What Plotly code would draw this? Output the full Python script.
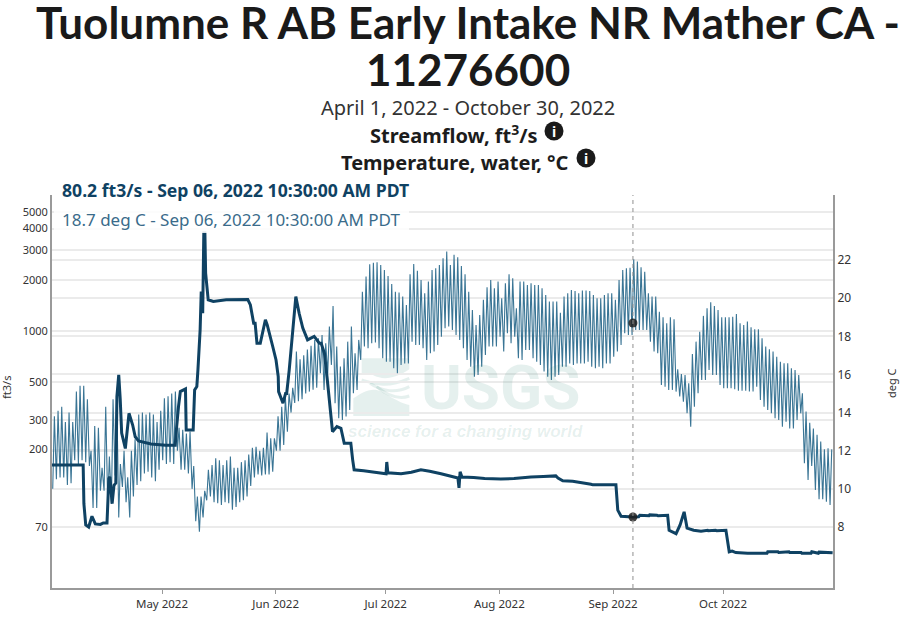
import pandas as pd
import plotly.graph_objects as go

START = pd.Timestamp("2022-04-01")

# Daily high and low water temperature, deg C, one entry per day from Apr 1
temp_high = [
    13.8,14.1,14.3,13.5,14.0,13.5,15.1,15.4,15.4,14.7,
    12.0,13.3,13.2,11.1,14.3,11.7,14.7,15.0,11.3,12.0,
    10.6,12.0,12.6,13.9,14.0,13.9,14.0,13.9,13.5,14.1,
    14.75,14.85,15.0,15.1,13.2,13.1,12.9,13.0,11.2,9.6,
    9.6,9.9,11.0,11.25,11.6,11.5,11.25,11.5,11.7,11.1,
    11.1,11.4,11.5,11.8,12.15,12.2,12.0,12.15,12.95,12.65,
    12.65,13.8,14.3,14.8,15.0,15.3,17.2,16.8,17.0,17.3,
    17.5,17.8,17.9,
    18.07,17.63,18.51,19.59,17.46,16.41,16.85,17.72,18.51,17.11,
    17.81,20.34,21.13,21.78,21.86,21.88,21.74,21.48,21.16,20.74,
    20.34,20.29,20.08,19.64,21.25,21.79,21.44,20.95,20.26,20.87,
    21.48,21.57,21.74,22.09,22.44,21.74,22.27,22.14,21.69,21.25,
    20.34,19.38,18.59,19.12,19.91,20.57,20.95,20.52,20.87,19.99,
    20.78,21.25,21.04,19.47,20.87,20.87,20.69,20.78,20.69,20.69,
    20.52,20.17,19.82,19.82,19.82,19.24,20.08,20.26,20.43,20.38,
    20.26,20.40,20.40,20.38,20.17,19.99,
    19.99,20.17,20.26,20.26,19.91,20.95,21.48,21.57,21.6,22.04,
    21.92,21.62,21.39,20.26,20.08,20.08,19.29,19.0,18.68,19.0,
    18.89,16.27,16.02,15.97,15.53,17.07,17.72,18.24,19.07,19.47,
    19.78,19.59,19.38,19.0,19.0,19.0,19.03,19.17,18.68,18.59,
    18.77,18.47,18.37,18.37,17.9,17.46,17.32,17.2,16.93,16.67,
    16.58,16.58,16.32,16.23,15.97,15.01,14.05,13.47,13.17,12.83,
    12.48,12.07,12.13,12.07,
]
temp_low = [
    10.0,10.5,10.6,10.6,10.2,10.3,11.5,11.3,11.5,11.4,
    11.2,9.0,9.0,9.9,9.9,9.2,9.2,10.7,8.5,10.1,
    9.3,8.5,9.6,10.2,10.4,10.8,10.9,10.6,10.4,11.0,
    11.5,11.3,11.4,11.3,12.0,11.0,11.0,10.8,10.0,8.3,
    7.75,8.5,9.4,9.6,9.3,9.25,9.15,9.3,9.25,8.9,
    9.05,9.3,9.4,9.6,10.15,10.6,10.75,10.7,10.75,10.75,
    10.9,12.0,12.0,12.3,13.0,14.0,14.5,14.6,14.7,15.0,
    15.1,15.2,15.3,
    16.06,15.19,16.06,16.5,14.49,13.7,13.61,13.79,14.14,15.01,
    15.19,16.76,17.46,17.37,17.63,17.67,17.37,16.85,16.67,16.67,
    16.32,16.06,16.5,16.58,16.58,17.72,17.55,17.55,17.37,16.76,
    17.11,17.2,17.55,17.98,18.42,18.51,18.33,18.07,17.81,17.37,
    16.76,16.41,15.88,15.97,16.41,17.02,17.46,17.46,17.46,17.98,
    17.2,18.16,17.63,17.98,16.85,16.76,17.28,17.28,16.85,16.67,
    16.5,16.15,15.88,15.71,15.88,15.97,16.41,16.41,16.58,16.5,
    16.58,16.58,16.58,16.67,16.41,16.32,
    16.41,16.32,16.58,16.58,16.93,17.2,17.55,18.16,18.07,18.07,
    18.33,18.33,18.33,18.33,17.72,17.2,17.11,15.45,15.36,15.19,
    15.19,15.1,14.84,14.57,13.96,13.26,14.31,15.01,15.71,15.71,
    16.23,15.97,15.97,15.45,15.27,15.27,15.27,15.22,15.15,15.15,
    15.15,15.1,15.1,15.36,14.66,14.31,14.14,13.96,13.7,13.61,
    13.26,13.52,13.17,13.17,13.61,13.96,11.34,10.47,11.2,9.94,
    9.45,9.45,9.33,9.15,
]
assert len(temp_high) == 213 and len(temp_low) == 213, (len(temp_high), len(temp_low))

# Streamflow: days since Apr 1 and ft3/s
flow_day = [
    0,8.5,8.7,9.2,10,10.9,11.8,13.2,14,15,15.5,15.8,16.4,16.9,17.4,17.7,18.2,18.6,19,20,21,22,
    22.7,23.6,27,31,33.6,34,34.5,35,36.4,36.6,38.5,38.9,39.5,39.8,40.4,40.7,41.1,41.4,41.7,41.9,
    42.6,44,47.5,53.4,54.1,55,55.4,55.9,56.8,58.2,58.7,60.2,61.1,61.7,61.8,63,63.7,64,64.7,66.5,
    67.4,68.4,69.7,71.5,72.9,73.4,74.3,75,76.1,76.5,77.7,78.8,79.7,81.5,82,82.4,85,88,91.1,91.3,91.6,
    95.2,98,100.6,103,106.1,110.7,111,111.3,111.8,115,118,122.4,126,130.6,134,137.4,138,139.3,142,147,147.5,
    153.5,153.8,154.3,155.2,158.44,160,160.3,162.8,163,165,165.3,167.9,168.3,170.2,171.3,172.4,173.2,175,177,178.8,
    179,181,181.3,183.8,184.7,185.5,186.5,189.7,195,195.2,198,198.2,201,201.2,204.3,204.5,207,207.2,209,209.2,212.9,
]
flow_cfs = [
    162,162,96,72,70,81,73,72.5,74,74,135,138,96,123,127,410,550,398,250,203,327,279,
    238,225,216,212,212,273,358,439,455,261,261,449,470,589,1014,1705,1270,3770,3770,2190,
    1524,1490,1524,1530,1422,1110,1110,846,846,1162,1084,809,674,538,439,375,428,428,589,1592,
    1270,1038,885,927,846,846,738,537,312,255,273,267,218,218,174,152,150,147,144,169,146,
    144,147,152,149,144,136,119,148,138,137,135,134,135,138,139,140,136,131,130,125,124,
    124,124,88,81,80.2,80.5,82,81.5,82.5,82,81.5,82,67,64,72,86,69,67,66,67,
    66.5,67,66.5,67,50,50.5,49.5,49,49,50,50,49.5,50,49.5,49.5,49,49,50,49,49.8,49.3,
]
assert len(flow_day) == len(flow_cfs), (len(flow_day), len(flow_cfs))

cursor_time = "2022-09-06 10:30"
cursor_flow = 80.2
cursor_temp = 18.7

flow_ticks = [70, 200, 300, 500, 1000, 2000, 3000, 4000, 5000]
temp_ticks = [8, 10, 12, 14, 16, 18, 20, 22]
month_ticks = ["2022-05-01", "2022-06-01", "2022-07-01", "2022-08-01", "2022-09-01", "2022-10-01"]
month_labels = ["May 2022", "Jun 2022", "Jul 2022", "Aug 2022", "Sep 2022", "Oct 2022"]

TITLE = ["Tuolumne R AB Early Intake NR Mather CA -", "11276600"]
DATES = "April 1, 2022 - October 30, 2022"
PARAM_1 = "Streamflow, ft<sup>3</sup>/s"
PARAM_2 = "Temperature, water, °C"
READ_1 = "80.2 ft3/s - Sep 06, 2022 10:30:00 AM PDT"
READ_2 = "18.7 deg C - Sep 06, 2022 10:30:00 AM PDT"

FONT = "Noto Sans"
HEAD = "Lato"
DARK = "#0f4263"
TEMP = "#3a7595"
GRID = "#ebebeb"
AXIS = "#9a9a9a"
INK = "#1c1c1c"
MARK = "rgba(0,110,85,0.10)"

L, R, T, B = 52, 833, 195, 588
W, H = 907, 619
px = lambda x: (x - L) / (R - L)
py = lambda y: (B - y) / (B - T)


def at(day_frac):
    return START + pd.to_timedelta(day_frac, unit="D")


temp_x, temp_y = [], []
for i, (lo, hi) in enumerate(zip(temp_low, temp_high)):
    temp_x += [at(i + 0.2), at(i + 0.65)]
    temp_y += [lo, hi]

fig = go.Figure()
fig.add_trace(go.Scatter(x=temp_x, y=temp_y, mode="lines", yaxis="y",
                         line=dict(color=TEMP, width=1.1), hoverinfo="skip"))
fig.add_trace(go.Scatter(x=[at(d) for d in flow_day], y=flow_cfs, mode="lines", yaxis="y2",
                         line=dict(color=DARK, width=3, simplify=False), hoverinfo="skip"))
fig.add_trace(go.Scatter(x=[cursor_time], y=[cursor_temp], mode="markers", yaxis="y",
                         marker=dict(color="rgba(30,30,30,0.85)", size=9), hoverinfo="skip"))
fig.add_trace(go.Scatter(x=[cursor_time], y=[cursor_flow], mode="markers", yaxis="y2",
                         marker=dict(color="rgba(30,30,30,0.85)", size=9), hoverinfo="skip"))


def note(x, y, text, size, color=INK, family=FONT, anchor="center", **kw):
    return dict(xref="paper", yref="paper", x=px(x), y=py(y), text=text, showarrow=False,
                xanchor=anchor, yanchor="middle", align="center",
                font=dict(family=family, size=size, color=color), **kw)


def zoom_path(points):
    # points in watermark-sketch pixels: x=340+zx/3, y=350+zy/3
    out = []
    for cmd, *vals in points:
        coords = []
        for a, b in zip(vals[0::2], vals[1::2]):
            coords.append(f"{px(340 + a / 3):.4f},{py(350 + b / 3):.4f}")
        out.append(cmd + " " + " ".join(coords))
    return " ".join(out)


logo_top = zoom_path([("M", 65, 25), ("L", 208, 25), ("L", 208, 58),
                      ("C", 170, 85, 130, 92, 100, 76), ("C", 88, 70, 75, 66, 65, 72), ("Z",)])
logo_low = zoom_path([("M", 40, 145), ("C", 70, 125, 95, 110, 125, 125),
                      ("C", 160, 145, 185, 160, 208, 165), ("L", 208, 198), ("L", 40, 198), ("Z",)])
logo_w1 = zoom_path([("M", 65, 90), ("C", 100, 100, 140, 115, 208, 85)])
logo_w2 = zoom_path([("M", 90, 100), ("C", 125, 125, 170, 130, 208, 110)])
logo_w3 = zoom_path([("M", 110, 110), ("C", 140, 135, 175, 150, 208, 138)])

shapes = [
    dict(type="path", xref="paper", yref="paper", path=logo_top, fillcolor=MARK, line_width=0, layer="below"),
    dict(type="path", xref="paper", yref="paper", path=logo_low, fillcolor=MARK, line_width=0, layer="below"),
    dict(type="path", xref="paper", yref="paper", path=logo_w1, line=dict(color=MARK, width=3), layer="below"),
    dict(type="path", xref="paper", yref="paper", path=logo_w2, line=dict(color=MARK, width=3), layer="below"),
    dict(type="path", xref="paper", yref="paper", path=logo_w3, line=dict(color=MARK, width=3), layer="below"),
    dict(type="rect", xref="paper", yref="paper", x0=px(54), x1=px(409), y0=py(233), y1=py(203),
         fillcolor="rgba(255,255,255,0.85)", line_width=0, layer="above"),
    dict(type="line", xref="x", yref="paper", x0=cursor_time, x1=cursor_time, y0=0, y1=1,
         line=dict(color="#8f8f8f", width=1, dash="4px,4px"), layer="above"),
    dict(type="circle", xref="paper", yref="paper", x0=px(544.5), x1=px(563.5), y0=py(140.5), y1=py(121.5),
         fillcolor="#1a1a1a", line_width=0),
    dict(type="circle", xref="paper", yref="paper", x0=px(576.5), x1=px(595.5), y0=py(167.5), y1=py(148.5),
         fillcolor="#1a1a1a", line_width=0),
]

annotations = [
    note(468, 22, f"<b>{TITLE[0]}</b>", 44, family=HEAD, color="#1a1a1a", height=44),
    note(468, 69, f"<b>{TITLE[1]}</b>", 44, family=HEAD, color="#1a1a1a", height=44),
    note(468, 108, DATES, 20, color="#333333"),
    note(453.5, 134, f"<b>{PARAM_1}</b>", 20),
    note(454.5, 162, f"<b>{PARAM_2}</b>", 20),
    note(554, 131, "<b>i</b>", 14, color="white"),
    note(586, 158, "<b>i</b>", 14, color="white"),
    note(60, 190, f"<b>{READ_1}</b>", 17.6, color=DARK, anchor="left"),
    note(60, 219, READ_2, 17, color="#3a6b8a", anchor="left"),
    note(501, 387, "<b>USGS</b>", 62, color=MARK, family="Roboto"),
    note(466, 431, "<b><i>science for a changing world</i></b>", 17, color=MARK, family="Liberation Sans"),
    note(6, 388, "ft3/s", 11, color="#333333", textangle=-90),
    note(891, 383, "deg C", 11, color="#333333", textangle=-90),
]

fig.update_layout(
    width=W, height=H, showlegend=False,
    paper_bgcolor="white", plot_bgcolor="white",
    margin=dict(l=L, r=W - R, t=T, b=H - B, pad=0, autoexpand=False),
    font=dict(family=FONT, size=12, color="#333333"),
    xaxis=dict(type="date", range=["2022-04-01", "2022-10-31"], tickmode="array",
               tickvals=month_ticks, ticktext=month_labels, ticks="outside", ticklen=4,
               tickcolor=AXIS, showgrid=False, showline=True, linecolor=AXIS, linewidth=2,
               tickfont=dict(size=11.5), zeroline=False, automargin=False),
    yaxis=dict(side="right", range=[4.8, 25.41], tickmode="array", tickvals=temp_ticks,
               ticktext=[str(t) for t in temp_ticks], showgrid=True, gridcolor=GRID, gridwidth=1.6,
               showline=True, linecolor=AXIS, linewidth=2, ticks="", zeroline=False,
               tickfont=dict(size=12), automargin=False),
    yaxis2=dict(side="left", overlaying="y", type="log", range=[1.486, 3.80], tickmode="array",
                tickvals=flow_ticks, ticktext=[str(t) for t in flow_ticks], showgrid=True,
                gridcolor=GRID, gridwidth=1.6, showline=True, linecolor=AXIS, linewidth=2,
                ticks="", zeroline=False, tickfont=dict(size=11), automargin=False),
    shapes=shapes,
    annotations=annotations,
)

fig.write_html("out.html", config={"displayModeBar": False},
               post_script="document.body.style.margin='0';document.body.style.overflow='hidden';")
